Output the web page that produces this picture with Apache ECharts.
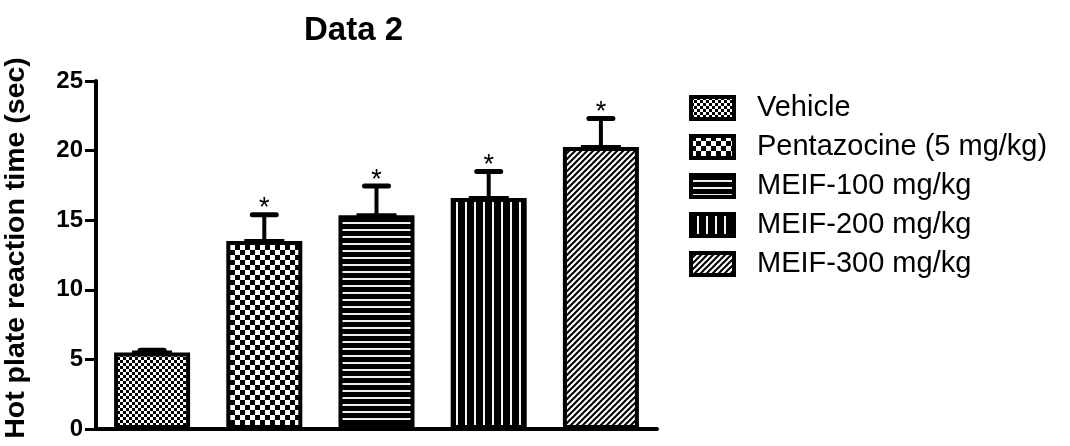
<!DOCTYPE html>
<html>
<head>
<meta charset="utf-8">
<script src="https://cdn.jsdelivr.net/npm/echarts@6/dist/echarts.min.js"></script>
<style>html,body{margin:0;padding:0;background:#fff}#c{width:1070px;height:446px}</style>
</head>
<body>
<div id="c"></div>
<script>
const categories = ['Vehicle', 'Pentazocine (5 mg/kg)', 'MEIF-100 mg/kg', 'MEIF-200 mg/kg', 'MEIF-300 mg/kg'];
const means = [5.5, 13.5, 15.35, 16.6, 20.25];
const errors = [0.15, 1.9, 2.1, 1.9, 2.05];
const stars = ['', '*', '*', '*', '*'];
const yTicks = [0, 5, 10, 15, 20, 25];

const FONT = '"Liberation Sans", Arial, sans-serif';

function tile(w, h, draw) {
  const c = document.createElement('canvas');
  c.width = w; c.height = h;
  const g = c.getContext('2d');
  draw(g, w, h);
  return { image: c, repeat: 'repeat' };
}
const patterns = [
  tile(6, 6, (g) => { g.fillStyle = '#fff'; g.fillRect(0,0,6,6); g.fillStyle = '#000'; g.fillRect(0,0,3,3); g.fillRect(3,3,3,3); }),
  tile(10, 10, (g) => { g.fillStyle = '#fff'; g.fillRect(0,0,10,10); g.fillStyle = '#000'; g.fillRect(0,0,5,5); g.fillRect(5,5,5,5); }),
  tile(8, 7, (g) => { g.fillStyle = '#000'; g.fillRect(0,0,8,7); g.fillStyle = '#eee'; g.fillRect(0,5,8,2); }),
  tile(9, 8, (g) => { g.fillStyle = '#000'; g.fillRect(0,0,9,8); g.fillStyle = '#f4f4f4'; g.fillRect(6,0,2,8); }),
  tile(6, 6, (g) => {
    g.fillStyle = '#fff'; g.fillRect(0,0,6,6);
    g.strokeStyle = '#000'; g.lineWidth = 2;
    g.beginPath();
    g.moveTo(-1, 7); g.lineTo(7, -1);
    g.moveTo(-4, 4); g.lineTo(4, -4);
    g.moveTo(2, 10); g.lineTo(10, 2);
    g.stroke();
  })
];

const barSeries = categories.map((name, i) => ({
  name: name,
  type: 'bar',
  barWidth: 76,
  barGap: '-100%',
  data: categories.map((_, j) => (j === i ? means[i] : '-')),
  itemStyle: { color: patterns[i], borderColor: '#000', borderWidth: 4 },
  emphasis: { disabled: true },
  z: 2
}));

const errSeries = {
  type: 'custom',
  z: 5,
  silent: true,
  data: means.map((m, i) => [i, m, errors[i]]),
  renderItem: function (params, api) {
    const x = api.value(0);
    const m = api.value(1);
    const e = api.value(2);
    const star = stars[params.dataIndex];
    const base = api.coord([x, m]);
    const top = api.coord([x, m + e]);
    const children = [
      { type: 'line', shape: { x1: base[0] - 20, y1: base[1], x2: base[0] + 20, y2: base[1] }, style: { stroke: '#000', lineWidth: 4 } },
      { type: 'line', shape: { x1: top[0], y1: base[1], x2: top[0], y2: top[1] }, style: { stroke: '#000', lineWidth: 4 } },
      { type: 'line', shape: { x1: top[0] - 12, y1: top[1], x2: top[0] + 12, y2: top[1] }, style: { stroke: '#000', lineWidth: 5, lineCap: 'round' } }
    ];
    if (star) {
      children.push({ type: 'text', x: top[0], y: top[1] - 6, style: { text: star, fill: '#000', font: '27px ' + FONT, align: 'center', verticalAlign: 'middle' } });
    }
    return { type: 'group', children: children };
  }
};

const chart = echarts.init(document.getElementById('c'), null, { renderer: 'canvas' });
chart.setOption({
  animation: false,
  backgroundColor: '#fff',
  title: {
    text: 'Data 2',
    left: 299,
    top: 9,
    textStyle: { fontFamily: FONT, fontWeight: 'bold', fontSize: 33, color: '#000' }
  },
  legend: {
    orient: 'vertical',
    left: 684,
    top: 86,
    itemWidth: 43,
    itemHeight: 22,
    itemGap: 5,
    icon: 'rect',
    selectedMode: false,
    itemStyle: { borderColor: '#000', borderWidth: 4 },
    textStyle: { fontFamily: FONT, fontSize: 29, color: '#000', padding: [4, 0, 0, 18], lineHeight: 30 },
    data: categories
  },
  grid: { left: 96, right: 413, top: 81, bottom: 17, containLabel: false, outerBoundsMode: 'none' },
  xAxis: {
    type: 'category',
    data: categories,
    axisLine: { lineStyle: { color: '#000', width: 4 } },
    axisTick: { alignWithLabel: true, length: 10, lineStyle: { color: '#000', width: 3 } },
    axisLabel: { show: false },
    splitLine: { show: false }
  },
  yAxis: {
    type: 'value',
    min: yTicks[0],
    max: yTicks[yTicks.length - 1],
    interval: yTicks[1] - yTicks[0],
    name: 'Hot plate reaction time (sec)',
    nameLocation: 'middle',
    nameGap: 65,
    nameTextStyle: { fontFamily: FONT, fontWeight: 'bold', fontSize: 28.5, color: '#000', padding: [0, 0, 0, 14] },
    axisLine: { show: true, lineStyle: { color: '#000', width: 4 } },
    axisTick: { show: true, length: 11, lineStyle: { color: '#000', width: 3 } },
    axisLabel: { fontFamily: FONT, fontWeight: 'bold', fontSize: 24, color: '#000', margin: 13 },
    splitLine: { show: false }
  },
  series: barSeries.concat([errSeries])
});
</script>
</body>
</html>
